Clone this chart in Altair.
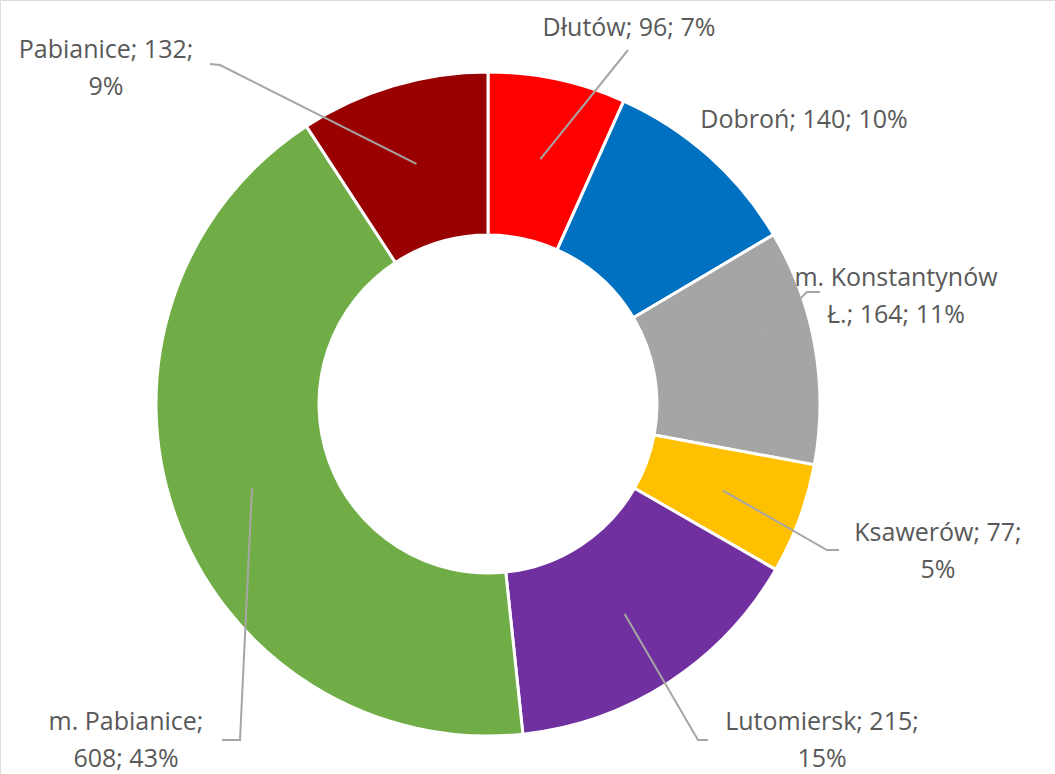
import math
import altair as alt
import pandas as pd

# ---- data ----
names = ["Dłutów", "Dobroń", "m. Konstantynów Ł.", "Ksawerów", "Lutomiersk", "m. Pabianice", "Pabianice"]
values = [96, 140, 164, 77, 215, 608, 132]
percents = [7, 10, 11, 5, 15, 43, 9]
colors = ["#FF0000", "#0070C0", "#A5A5A5", "#FFC000", "#7030A0", "#70AD47", "#990000"]

# ---- layout (styles / positions, kept apart from the data) ----
CX, CY = 488, 404
R_IN, R_OUT = 169, 332
FONT = "Open Sans"
FS = 25
LINE_H = 37
# number of words on the first label line (None = single line)
first_line_words = [None, None, 2, 2, 2, 2, 2]
# label block centre (x, y of first line)
label_x = [629, 804, 896, 938, 822, 126, 106]
label_y = [28, 120, 278, 533, 722, 722, 50]
# leader line bends: list of (x, y) after the slice centroid; empty = no leader
leader_pts = [
    [(628, 50)],
    [],
    [(807, 292), (820, 292)],
    [(827, 550), (839, 550)],
    [(698, 740), (708, 740)],
    [(240, 740), (222, 740)],
    [(220, 65), (210, 64)],
]

total = sum(values)
df = pd.DataFrame({"name": names, "value": values, "order": range(len(names))})

# labels
text_rows = []
for i, (n, v, p) in enumerate(zip(names, values, percents)):
    full = f"{n}; {v}; {p}%"
    words = full.split(" ")
    k = first_line_words[i]
    lines = [full] if k is None else [" ".join(words[:k]), " ".join(words[k:])]
    for j, ln in enumerate(lines):
        text_rows.append({"t": ln, "px": label_x[i], "py": label_y[i] + j * LINE_H})
tdf = pd.DataFrame(text_rows)

# leader lines: from slice centroid (computed from data) to label
line_rows = []
cum = 0
for i, v in enumerate(values):
    mid = (cum + v / 2) / total * 2 * math.pi
    cum += v
    if not leader_pts[i]:
        continue
    rm = (R_IN + R_OUT) / 2
    pts = [(CX + rm * math.sin(mid), CY - rm * math.cos(mid))] + leader_pts[i]
    for k, (x, y) in enumerate(pts):
        line_rows.append({"id": names[i], "k": k, "px": x, "py": y})
ldf = pd.DataFrame(line_rows)

arcs = alt.Chart(df).mark_arc(
    innerRadius=R_IN, outerRadius=R_OUT, stroke="white", strokeWidth=3
).encode(
    theta=alt.Theta("value:Q", stack=True),
    order=alt.Order("order:Q"),
    color=alt.Color("name:N", scale=alt.Scale(domain=names, range=colors), legend=None),
    x=alt.value(CX),
    y=alt.value(CY),
)

leaders = alt.Chart(ldf).mark_line(color="#A6A6A6", strokeWidth=2).encode(
    x=alt.X("px:Q", scale=None),
    y=alt.Y("py:Q", scale=None),
    detail="id:N",
    order="k:Q",
)

labels = alt.Chart(tdf).mark_text(
    font=FONT, fontSize=FS, color="#595959", align="center", baseline="middle"
).encode(
    x=alt.X("px:Q", scale=None),
    y=alt.Y("py:Q", scale=None),
    text="t:N",
)

chart = alt.layer(arcs, leaders, labels).properties(
    width=1055, height=774, autosize=alt.AutoSizeParams(type="none"), padding=0
).configure_view(stroke=None).configure(background="white")

chart.save("out.html", embed_options={"renderer": "svg", "actions": False})
